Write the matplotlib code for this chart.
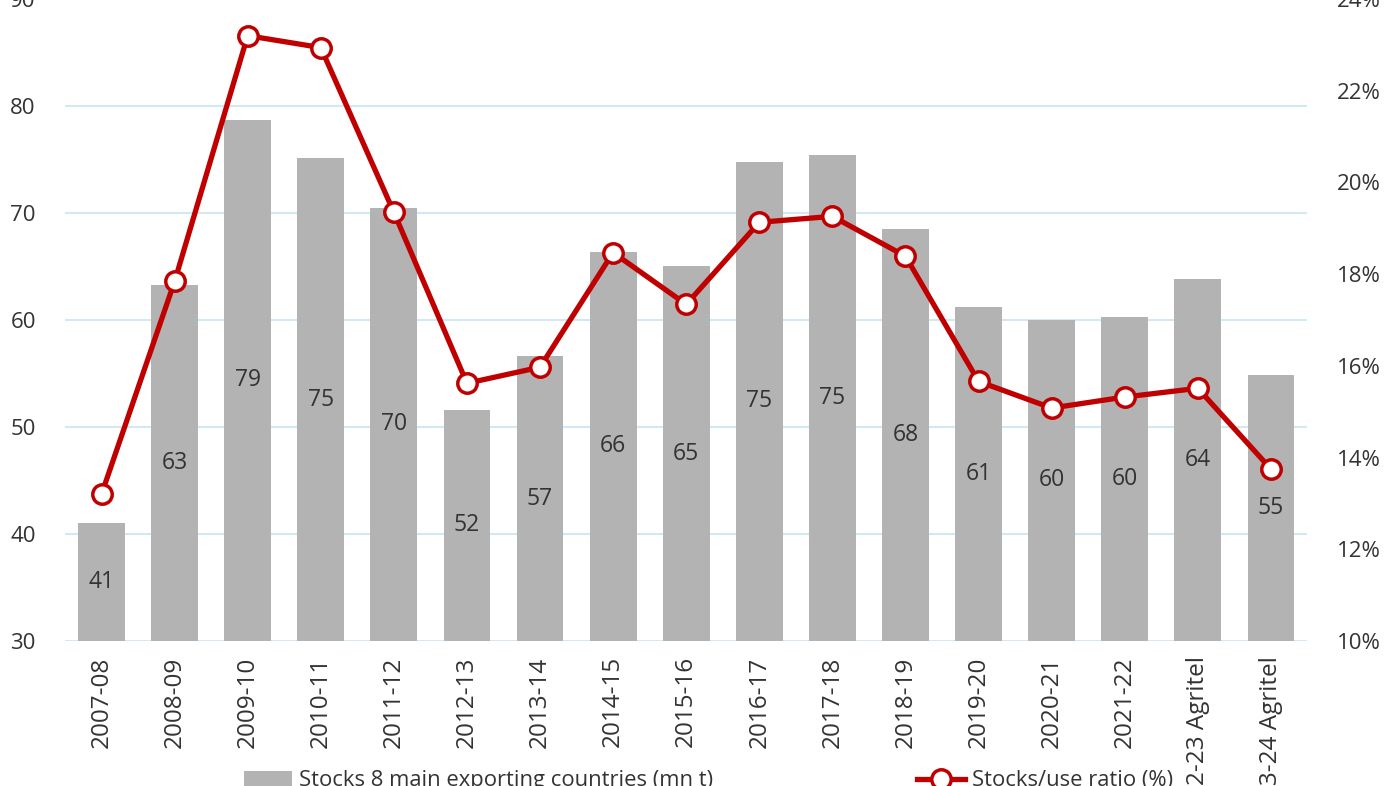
import matplotlib
matplotlib.use("Agg")
import matplotlib.pyplot as plt
import numpy as np

seasons = ["2007-08", "2008-09", "2009-10", "2010-11", "2011-12", "2012-13",
           "2013-14", "2014-15", "2015-16", "2016-17", "2017-18", "2018-19",
           "2019-20", "2020-21", "2021-22", "2022-23 Agritel", "2023-24 Agritel"]
stocks = [41.0, 63.3, 78.7, 75.1, 70.5, 51.6, 56.6, 66.4, 65.0, 74.8, 75.4,
          68.5, 61.2, 60.0, 60.3, 63.8, 54.9]
ratio = [13.2, 17.84, 23.2, 22.94, 19.35, 15.62, 15.97, 18.47, 17.34, 19.13,
         19.26, 18.39, 15.66, 15.08, 15.32, 15.51, 13.75]
left_ticks = [30, 40, 50, 60, 70, 80, 90]
right_ticks = [10, 12, 14, 16, 18, 20, 22, 24]

plt.rcParams['font.family'] = ['Open Sans', 'DejaVu Sans']
text_col = '#333333'
grid_col = '#d2e8f2'
bar_col = '#b3b3b3'
red = '#c00000'

fig = plt.figure(figsize=(14, 7.86), dpi=100)
ax = fig.add_axes([0.0464, 0.1845, 0.8875, 0.8168])
ax2 = ax.twinx()

x = np.arange(len(seasons))
bars = ax.bar(x, [s - 30 for s in stocks], bottom=30, width=0.64, color=bar_col,
              zorder=2, label="Stocks 8 main exporting countries (mn t)")
for xi, s in zip(x, stocks):
    ax.text(xi, (30 + s) / 2, f"{round(s):d}", ha='center', va='center',
            fontsize=16.5, color=text_col, zorder=3)

ax.set_xlim(-0.5, len(seasons) - 0.5)
ax.set_ylim(30, 90)
ax.set_yticks(left_ticks)
ax.set_yticklabels([str(t) for t in left_ticks])
for t in left_ticks:
    ax.axhline(t, color=grid_col, lw=1.5, zorder=0)
ax.set_xticks(x)
ax.set_xticklabels(seasons, rotation=90, fontsize=17.5, color=text_col)
ax.tick_params(axis='x', length=0, pad=11)
ax.tick_params(axis='y', length=0, pad=21, labelsize=16, labelcolor=text_col)
for sp in ax.spines.values():
    sp.set_visible(False)

line, = ax2.plot(x, ratio, color=red, lw=3.8, marker='o', markersize=14,
                 markerfacecolor='white', markeredgecolor=red, markeredgewidth=2.5,
                 zorder=5, label="Stocks/use ratio (%)")
ax2.set_ylim(10, 24)
ax2.set_yticks(right_ticks)
ax2.set_yticklabels([f"{t}%" for t in right_ticks])
ax2.tick_params(axis='y', length=0, pad=21, labelsize=16, labelcolor=text_col)
for sp in ax2.spines.values():
    sp.set_visible(False)

fig.legend(handles=[bars, line], loc='upper left', bbox_to_anchor=(0.16, 0.045),
           ncol=2, frameon=False, fontsize=15.8, columnspacing=9.3, handlelength=2.2,
           handletextpad=0.3, labelcolor=text_col)

fig.savefig("out.png", dpi=100)
